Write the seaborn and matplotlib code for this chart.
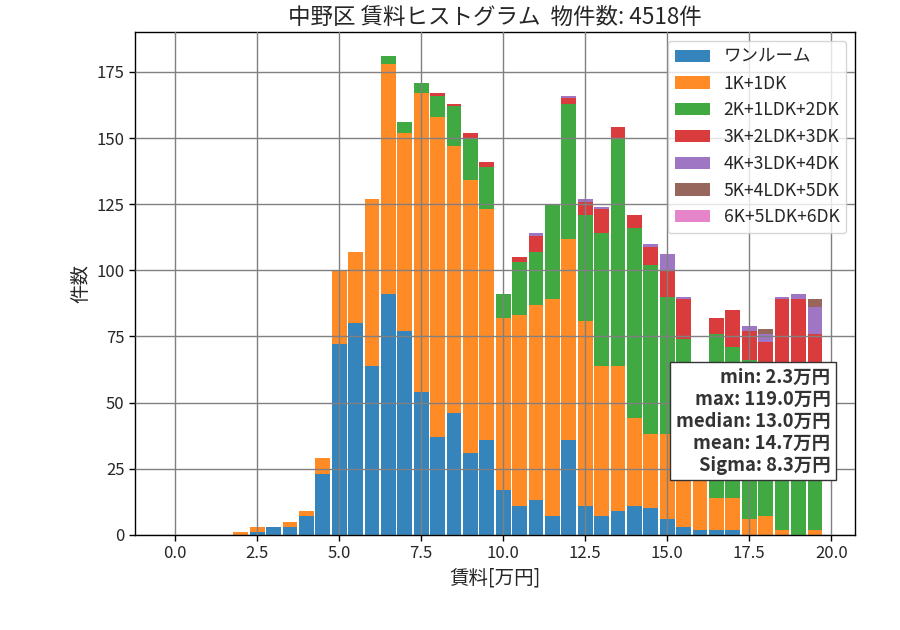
import numpy as np
import pandas as pd
import matplotlib
matplotlib.use("Agg")
import matplotlib.pyplot as plt
import seaborn as sns
from matplotlib.patches import Patch

# ---------------- data ----------------
bin_centers = [i * 0.5 for i in range(40)]  # 0.0 ... 19.5 [万円]

categories = ["ワンルーム", "1K+1DK", "2K+1LDK+2DK", "3K+2LDK+3DK",
              "4K+3LDK+4DK", "5K+4LDK+5DK", "6K+5LDK+6DK"]

one_room = [0, 0, 0, 0, 0, 1, 3, 3, 7, 23,
            72, 80, 64, 91, 77, 54, 37, 46, 31, 36,
            17, 11, 13, 7, 36, 11, 7, 9, 11, 10,
            6, 3, 2, 2, 2, 0, 0, 0, 0, 0]
k1_dk1 = [0, 0, 0, 0, 1, 2, 0, 2, 2, 6,
          28, 27, 63, 87, 75, 113, 121, 101, 103, 87,
          65, 72, 74, 82, 76, 70, 57, 55, 33, 28,
          32, 27, 25, 12, 12, 6, 7, 2, 0, 2]
k2_ldk1_dk2 = [0, 0, 0, 0, 0, 0, 0, 0, 0, 0,
               0, 0, 0, 3, 4, 4, 8, 15, 16, 16,
               9, 20, 20, 36, 51, 40, 50, 86, 72, 64,
               52, 44, 28, 62, 57, 60, 38, 48, 52, 56]
k3_ldk2_dk3 = [0, 0, 0, 0, 0, 0, 0, 0, 0, 0,
               0, 0, 0, 0, 0, 0, 1, 1, 2, 2,
               0, 2, 6, 0, 2, 5, 9, 4, 5, 7,
               10, 15, 3, 6, 14, 11, 28, 39, 37, 18]
k4_ldk3_dk4 = [0, 0, 0, 0, 0, 0, 0, 0, 0, 0,
               0, 0, 0, 0, 0, 0, 0, 0, 0, 0,
               0, 0, 1, 0, 1, 1, 1, 0, 0, 1,
               6, 1, 0, 0, 0, 2, 3, 1, 2, 10]
k5_ldk4_dk5 = [0, 0, 0, 0, 0, 0, 0, 0, 0, 0,
               0, 0, 0, 0, 0, 0, 0, 0, 0, 0,
               0, 0, 0, 0, 0, 0, 0, 0, 0, 0,
               0, 0, 0, 0, 0, 0, 2, 0, 0, 3]
k6_ldk5_dk6 = [0] * 40

stats_text = "min: 2.3万円\nmax: 119.0万円\nmedian: 13.0万円\nmean: 14.7万円\nSigma: 8.3万円"
title = "中野区 賃料ヒストグラム  物件数: 4518件"

series = [one_room, k1_dk1, k2_ldk1_dk2, k3_ldk2_dk3,
          k4_ldk3_dk4, k5_ldk4_dk5, k6_ldk5_dk6]

# expand binned counts to one row per listing
rows = []
for cat, vals in zip(categories, series):
    for c, v in zip(bin_centers, vals):
        rows.extend([{"rent": c, "layout": cat}] * v)
df = pd.DataFrame(rows)
present = [c for c in categories if c in set(df["layout"])]

# ---------------- style ----------------
sns.set_theme(style="white")
plt.rcParams["font.family"] = ["Noto Sans CJK JP", "DejaVu Sans"]
plt.rcParams["axes.unicode_minus"] = False

colors = sns.color_palette("tab10", 7)
palette = dict(zip(categories, colors))

fig = plt.figure(figsize=(9, 6.3), dpi=100)
ax = fig.add_axes([0.15, 0.151, 0.80, 0.798])

# seaborn stacks the first hue level on top -> reverse so ワンルーム is at the bottom
sns.histplot(data=df, x="rent", hue="layout",
             hue_order=present[::-1], palette=palette, multiple="stack",
             binwidth=0.5, binrange=(-0.25, 19.75), shrink=0.9, alpha=0.9,
             edgecolor="none", linewidth=0, legend=False, ax=ax)

for s in ax.spines.values():
    s.set_color("black")
    s.set_linewidth(1.0)

ax.set_axisbelow(False)
ax.grid(True, color="gray", linewidth=1.0)
ax.tick_params(axis="both", labelsize=12, length=4, width=1, color="black",
               bottom=True, left=True)
ax.set_xticks([0, 2.5, 5, 7.5, 10, 12.5, 15, 17.5, 20])
ax.set_xticklabels(["0.0", "2.5", "5.0", "7.5", "10.0", "12.5", "15.0", "17.5", "20.0"])
ax.set_yticks([0, 25, 50, 75, 100, 125, 150, 175])

ax.set_xlabel("賃料[万円]", fontsize=14)
ax.set_ylabel("件数", fontsize=14)
ax.set_title(title, fontsize=16.2)

handles = [Patch(facecolor=palette[c], alpha=0.9, edgecolor="none") for c in categories]
ax.legend(handles, categories, loc="upper right", fontsize=12.6)

ax.text(0.966, 0.12, stats_text, transform=ax.transAxes, ha="right", va="bottom",
        fontsize=13.3, fontweight="bold", color="#333333", zorder=10,
        bbox=dict(facecolor="white", edgecolor="#333333", boxstyle="square,pad=0.3"))

fig.savefig("out.png", dpi=100)
